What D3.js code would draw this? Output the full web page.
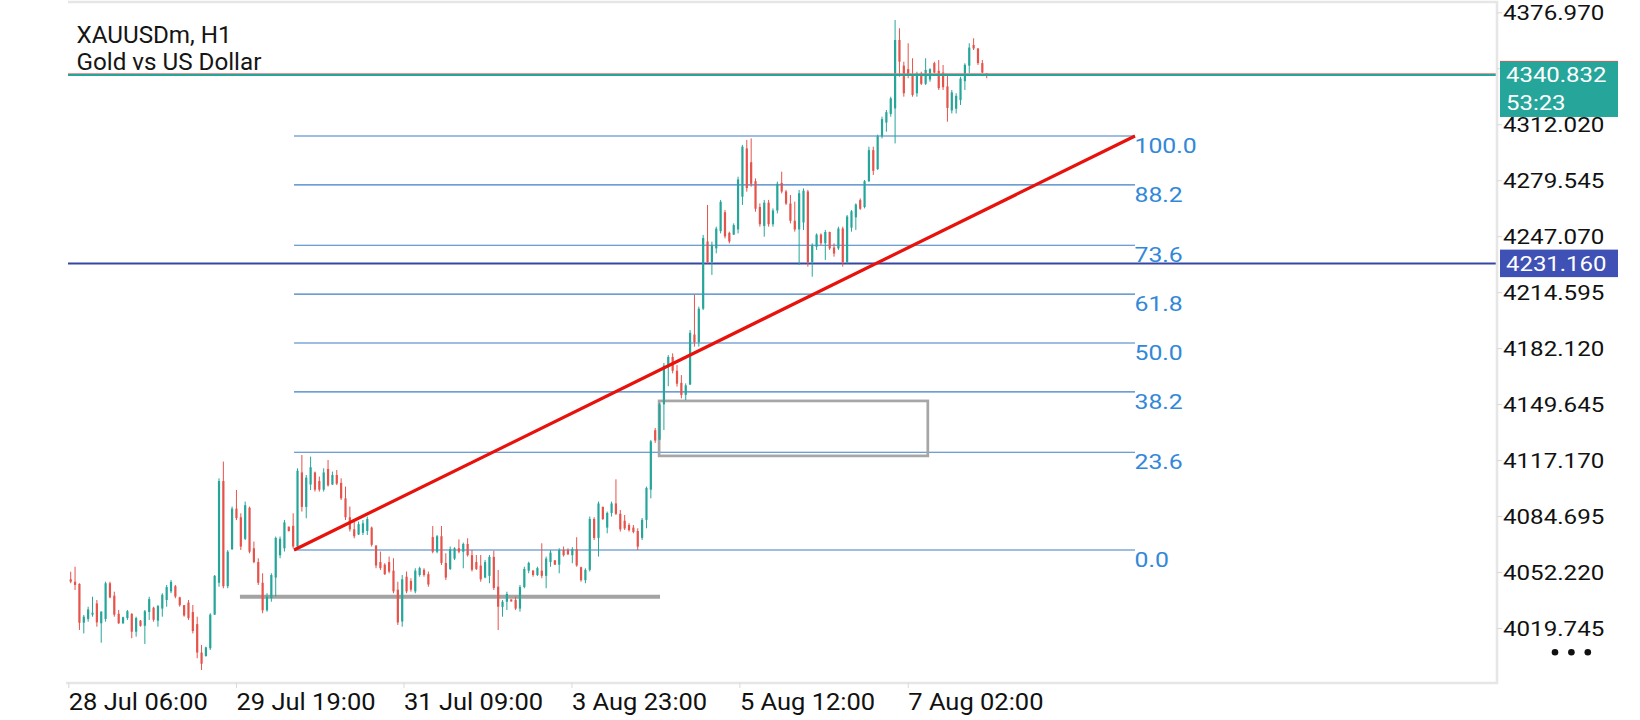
<!DOCTYPE html>
<html lang="en">
<head>
<meta charset="utf-8" />
<title>XAUUSDm, H1</title>
<style>
html, body {
	margin: 0;
	padding: 0;
	background: #fff;
}
svg {
	display: block;
	font-family: Roboto, "Noto Sans", sans-serif;
}
</style>
</head>
<body>
<svg width="1640" height="720"></svg>

<script src="https://cdn.jsdelivr.net/npm/d3@7"></script>
<script>

// H1 candles, [open, high, low, close]
var candles = [
	[4048.0,4052.4,4045.7,4046.6],[4046.6,4055.3,4041.8,4044.7],[4045.3,4045.7,4018.6,4022.8],[4022.8,4027.3,4016.6,4026.3],
	[4025.0,4032.1,4023.4,4030.5],[4027.5,4037.9,4026.3,4028.6],[4034.0,4036.0,4020.5,4023.0],[4022.5,4029.5,4011.2,4029.2],
	[4025.0,4046.6,4023.4,4045.7],[4045.7,4046.6,4037.0,4037.5],[4038.5,4040.8,4026.3,4027.5],[4028.0,4030.2,4022.1,4022.5],
	[4022.5,4026.3,4022.1,4026.0],[4025.5,4030.2,4024.4,4029.5],[4028.0,4028.3,4013.8,4017.6],[4017.6,4026.3,4014.7,4025.5],
	[4024.0,4024.4,4020.5,4021.0],[4021.0,4030.2,4010.5,4029.5],[4029.0,4037.9,4024.4,4036.5],[4031.5,4032.1,4023.4,4024.5],
	[4024.0,4033.1,4020.5,4032.5],[4031.0,4039.9,4026.3,4039.0],[4036.0,4044.7,4032.1,4043.5],[4041.0,4047.6,4039.9,4046.5],
	[4044.0,4044.7,4037.0,4038.0],[4037.5,4037.9,4032.1,4033.0],[4033.0,4033.1,4026.3,4027.0],[4034.5,4036.0,4024.4,4025.5],
	[4029.0,4033.1,4016.6,4018.0],[4022.0,4026.3,4002.2,4005.5],[4005.5,4009.9,3995.4,3999.0],[4003.5,4008.9,4003.1,4008.5],
	[4008.0,4028.3,4007.0,4027.5],[4027.5,4050.5,4027.3,4050.0],[4046.0,4106.6,4043.7,4105.0],[4105.0,4116.3,4042.8,4044.0],
	[4044.0,4065.0,4042.8,4064.0],[4065.5,4090.2,4065.0,4089.0],[4089.0,4099.8,4082.4,4083.5],[4084.0,4086.3,4065.0,4067.0],
	[4071.5,4093.1,4070.8,4091.0],[4089.5,4090.2,4063.1,4064.0],[4066.0,4069.9,4057.3,4058.0],[4058.0,4060.2,4044.7,4046.0],
	[4046.0,4051.5,4028.3,4030.0],[4030.0,4039.9,4029.2,4038.0],[4037.0,4051.5,4035.0,4050.5],[4049.0,4072.8,4037.9,4072.0],
	[4062.0,4072.8,4060.2,4071.5],[4066.0,4082.4,4064.1,4081.0],[4078.5,4078.6,4075.7,4076.0],[4079.0,4086.3,4066.0,4067.0],
	[4067.0,4112.4,4065.0,4111.0],[4110.0,4120.1,4087.3,4090.0],[4090.0,4108.5,4083.4,4107.0],[4103.0,4119.2,4099.8,4113.0],
	[4110.0,4110.5,4098.9,4100.0],[4105.0,4107.6,4098.9,4100.0],[4100.0,4112.4,4098.9,4110.0],[4112.0,4117.2,4101.8,4102.5],
	[4103.0,4110.5,4102.7,4108.5],[4108.5,4111.4,4102.7,4103.5],[4104.0,4106.6,4094.0,4095.0],[4095.0,4101.8,4082.4,4084.0],
	[4084.0,4090.2,4075.7,4077.0],[4077.0,4082.4,4071.8,4073.0],[4074.0,4081.5,4073.7,4080.0],[4075.0,4082.4,4073.7,4080.5],
	[4076.0,4084.4,4073.7,4083.0],[4078.0,4078.6,4067.0,4068.0],[4067.5,4067.9,4054.4,4056.0],[4058.0,4064.1,4053.4,4054.5],
	[4056.5,4057.3,4050.5,4051.0],[4058.0,4061.2,4051.5,4052.5],[4053.0,4060.2,4039.9,4041.0],[4042.0,4046.6,4021.5,4023.0],
	[4023.5,4050.5,4020.5,4048.0],[4049.5,4052.5,4039.9,4041.0],[4047.0,4048.6,4040.8,4042.0],[4041.0,4054.4,4039.9,4053.0],
	[4050.5,4055.3,4049.5,4054.5],[4053.5,4054.4,4049.5,4050.5],[4051.0,4052.5,4043.7,4045.0],[4072.5,4078.9,4063.1,4064.0],
	[4064.0,4073.7,4063.1,4073.0],[4073.0,4078.9,4056.3,4057.5],[4057.5,4063.1,4047.6,4049.0],[4054.0,4067.0,4053.4,4065.5],
	[4060.0,4066.6,4059.2,4066.0],[4066.0,4071.2,4063.1,4064.0],[4064.0,4069.3,4054.4,4068.5],[4068.5,4071.8,4061.2,4062.0],
	[4062.0,4065.0,4052.5,4053.5],[4058.0,4062.1,4053.4,4054.0],[4056.0,4062.1,4046.6,4048.0],[4049.0,4059.2,4048.6,4058.0],
	[4050.0,4062.1,4045.7,4061.0],[4061.0,4064.6,4041.8,4043.0],[4043.7,4053.4,4018.6,4032.1],[4032.0,4036.0,4026.3,4035.0],
	[4035.0,4040.8,4030.2,4039.5],[4036.3,4036.4,4035.0,4035.2],[4036.0,4037.9,4030.2,4031.0],[4031.0,4044.7,4029.2,4043.5],
	[4043.5,4055.3,4042.8,4054.0],[4053.0,4058.2,4051.5,4057.5],[4053.0,4053.4,4049.5,4050.5],[4050.5,4055.3,4049.9,4054.5],
	[4053.0,4068.9,4048.6,4050.0],[4050.0,4061.2,4042.8,4060.0],[4058.0,4065.0,4055.3,4063.5],[4059.0,4059.2,4056.3,4056.5],
	[4056.5,4066.0,4051.5,4065.0],[4065.0,4067.0,4061.2,4062.0],[4065.0,4066.0,4062.1,4062.5],[4062.0,4066.6,4057.3,4065.5],
	[4065.5,4072.4,4055.3,4056.0],[4055.0,4055.3,4046.6,4047.5],[4047.5,4054.4,4045.7,4053.5],[4053.5,4084.4,4052.5,4083.0],
	[4083.0,4084.0,4070.8,4072.0],[4072.0,4093.1,4061.2,4092.0],[4090.0,4090.2,4082.4,4083.0],[4078.0,4087.3,4074.7,4086.5],
	[4086.5,4093.1,4084.4,4092.0],[4092.0,4106.0,4085.3,4086.0],[4086.0,4088.2,4075.7,4077.0],[4082.0,4085.3,4076.6,4077.5],
	[4079.5,4080.5,4075.7,4076.5],[4078.0,4079.5,4074.7,4075.5],[4076.0,4077.6,4065.0,4067.0],[4072.0,4083.6,4070.8,4082.5],
	[4082.5,4101.8,4077.6,4101.0],[4100.0,4128.8,4095.0,4128.0],[4134.5,4135.8,4127.1,4128.5],[4129.0,4150.3,4128.8,4149.5],
	[4149.5,4173.5,4134.6,4172.0],[4172.0,4178.1,4160.0,4177.0],[4177.0,4179.1,4167.5,4169.0],[4169.0,4172.3,4159.8,4161.5],
	[4162.0,4166.5,4153.0,4155.0],[4155.0,4161.7,4152.0,4160.5],[4161.0,4192.6,4160.7,4191.0],[4190.0,4213.0,4183.0,4185.5],
	[4185.5,4206.2,4183.0,4205.0],[4205.0,4247.8,4204.2,4246.0],[4244.0,4265.2,4231.3,4232.0],[4232.0,4243.9,4224.6,4242.0],
	[4240.0,4252.6,4237.1,4251.5],[4250.0,4268.1,4248.7,4267.0],[4261.0,4262.3,4245.8,4247.0],[4249.0,4249.7,4242.9,4244.0],
	[4248.0,4254.5,4247.8,4253.5],[4251.0,4281.6,4248.7,4280.0],[4270.0,4300.0,4265.2,4299.0],[4298.0,4302.9,4272.9,4275.0],
	[4290.0,4303.8,4275.8,4277.5],[4279.0,4280.6,4261.3,4263.0],[4264.0,4266.1,4252.6,4254.0],[4253.0,4268.1,4246.8,4266.5],
	[4266.5,4268.1,4252.6,4254.0],[4254.0,4263.2,4252.6,4262.0],[4262.0,4278.7,4260.3,4277.5],[4278.0,4284.5,4271.9,4273.0],
	[4273.0,4273.9,4265.2,4266.0],[4266.0,4271.0,4254.5,4256.0],[4256.0,4267.1,4249.7,4251.0],[4251.0,4273.9,4230.4,4272.0],
	[4255.0,4274.8,4250.7,4273.5],[4273.0,4273.9,4229.4,4232.0],[4232.0,4242.9,4223.6,4242.0],[4241.0,4248.7,4239.1,4248.0],
	[4248.0,4248.7,4242.0,4243.0],[4243.0,4250.7,4233.3,4249.5],[4249.5,4249.7,4239.1,4240.0],[4240.5,4242.9,4235.2,4237.0],
	[4240.0,4252.6,4239.1,4251.5],[4251.5,4252.6,4229.4,4232.0],[4232.0,4259.4,4231.3,4258.5],[4252.0,4262.3,4249.7,4261.5],
	[4258.0,4266.1,4250.7,4265.5],[4268.0,4269.0,4262.3,4263.0],[4264.0,4279.7,4263.2,4279.0],[4279.0,4299.0,4278.5,4297.0],
	[4297.0,4299.0,4282.6,4285.0],[4286.0,4306.0,4285.5,4305.0],[4305.0,4316.4,4303.8,4315.0],[4313.0,4320.3,4307.7,4319.0],
	[4318.0,4328.0,4316.4,4327.0],[4321.2,4372.5,4300.9,4360.9],[4360.9,4367.7,4339.6,4348.3],[4346.0,4348.3,4328.0,4330.0],
	[4344.0,4359.0,4338.7,4340.0],[4341.0,4350.3,4328.0,4329.0],[4330.0,4342.5,4328.0,4341.5],[4341.5,4342.5,4334.8,4335.5],
	[4335.5,4350.3,4334.8,4343.5],[4338.0,4344.5,4336.7,4344.0],[4347.5,4348.3,4341.6,4342.0],[4343.0,4349.3,4331.9,4333.0],
	[4342.0,4346.4,4331.9,4333.5],[4334.0,4340.6,4313.5,4321.5],[4320.0,4331.9,4318.3,4330.5],[4321.0,4330.0,4318.3,4328.5],
	[4326.0,4339.6,4323.2,4338.5],[4337.0,4347.4,4331.9,4346.5],[4346.0,4359.0,4341.6,4356.5],[4358.0,4361.9,4355.1,4356.0],
	[4356.0,4356.1,4346.4,4347.5],[4347.5,4349.3,4341.6,4342.0],[4341.5,4341.6,4338.7,4340.8]
];

// price axis labels
var priceTicks = [4376.970, 4344.495, 4312.020, 4279.545, 4247.070, 4214.595,
	4182.120, 4149.645, 4117.170, 4084.695, 4052.220, 4019.745];

// time axis labels and where they sit (bar number)
var timeLabels = ["28 Jul 06:00", "29 Jul 19:00", "31 Jul 09:00", "3 Aug 23:00", "5 Aug 12:00", "7 Aug 02:00"];
var timeTickBars = [-0.55, 37.9, 76.3, 114.8, 153.3, 191.9];

// fibonacci retracement
var fibLevels = [0, 23.6, 38.2, 50.0, 61.8, 73.6, 88.2, 100.0];
var fibFrom = { bar: 51.2, price: 4065.0 };
var fibTo = { bar: 244.0, price: 4305.2 };

// other drawn objects
var grayLine = { bar0: 38.8, bar1: 135.1, price: 4037.9 };
var box = { bar0: 134.9, bar1: 196.5, top: 4151.5, bottom: 4119.6 };

var bidPrice = 4340.832;
var askPrice = 4341.2;
var timer = "53:23";
var levelPrice = 4231.160;

var title = ["XAUUSDm, H1", "Gold vs US Dollar"];

main();

function main() {

	var svg = d3.select('svg');

	var L = 68, R = 1497, T = 2, B = 683; // plot frame
	var upColor = "#26a69a", downColor = "#e5534b";
	var fibColor = "#3d7fc4", fibText = "#3288d8";

	var x = d3.scaleLinear().domain([0, candles.length - 1]).range([70.7, 986.7]);
	var y = d3.scaleLinear().domain([4019.745, 4376.970]).range([628, 12.3]);

	//文字は横に少し伸びている
	function place(px, py, sx) {
		return "translate(" + [px, py] + ") scale(" + sx + ",1)";
	}

	svg.append("defs").append("clipPath").attr("id", "plot")
		.append("rect").attr("x", L).attr("y", T).attr("width", R - L).attr("height", B - T);

	var plot = svg.append("g").attr("clip-path", "url(#plot)");

	//フレーム
	svg.append("path")
		.attr("d", "M" + L + "," + T + "H" + R + "V" + B + "H66")
		.attr("fill", "none").attr("stroke", "#e6e6e6").attr("stroke-width", 2.6);

	//タイトル
	svg.selectAll(".title").data(title).enter().append("text")
		.attr("class", "title")
		.attr("transform", function(d, i){ return place(76.5, 42.5 + i * 27.5, 1.03); })
		.attr("font-size", 23.5).attr("fill", "#151515")
		.text(function(d){ return d; });

	//フィボナッチ水平線
	var fibPrice = function(lv){ return fibFrom.price + (fibTo.price - fibFrom.price) * lv / 100; };
	var fib = plot.append("g");
	fib.selectAll("line").data(fibLevels).enter().append("line")
		.attr("x1", x(fibFrom.bar)).attr("x2", x(fibTo.bar))
		.attr("y1", function(d){ return y(fibPrice(d)); })
		.attr("y2", function(d){ return y(fibPrice(d)); })
		.attr("stroke", fibColor).attr("stroke-width", 1.1);
	fib.selectAll("text").data(fibLevels).enter().append("text")
		.attr("transform", function(d){ return place(x(fibTo.bar) - 0.5, y(fibPrice(d)) + 17, 1.18); })
		.attr("font-size", 21).attr("fill", fibText)
		.text(function(d){ return d.toFixed(1); });

	//グレーの水平線と四角形
	plot.append("line")
		.attr("x1", x(grayLine.bar0)).attr("x2", x(grayLine.bar1))
		.attr("y1", y(grayLine.price)).attr("y2", y(grayLine.price))
		.attr("stroke", "#a3a3a3").attr("stroke-width", 4);

	plot.append("rect")
		.attr("x", x(box.bar0)).attr("y", y(box.top))
		.attr("width", x(box.bar1) - x(box.bar0))
		.attr("height", y(box.bottom) - y(box.top))
		.attr("fill", "none").attr("stroke", "#a6a6a6").attr("stroke-width", 2.7);

	//価格ライン
	plot.append("line")
		.attr("x1", L).attr("x2", R)
		.attr("y1", y(levelPrice)).attr("y2", y(levelPrice))
		.attr("stroke", "#3646a3").attr("stroke-width", 2);

	//ローソク足
	var c = plot.selectAll(".candle").data(candles).enter().append("g").attr("class", "candle")
		.attr("fill", function(d){ return d[3] >= d[0] ? upColor : downColor; })
		.attr("stroke", function(d){ return d[3] >= d[0] ? upColor : downColor; });

	c.append("line")
		.attr("x1", function(d, i){ return x(i); })
		.attr("x2", function(d, i){ return x(i); })
		.attr("y1", function(d){ return y(d[1]); })
		.attr("y2", function(d){ return y(d[2]); })
		.attr("stroke-width", 1);

	c.append("rect")
		.attr("stroke", "none")
		.attr("x", function(d, i){ return x(i) - 1.1; })
		.attr("width", 2.2)
		.attr("y", function(d){ return y(Math.max(d[0], d[3])); })
		.attr("height", function(d){ return Math.max(1, Math.abs(y(d[0]) - y(d[3]))); });

	//トレンドライン
	plot.append("line")
		.attr("x1", x(fibFrom.bar)).attr("y1", y(fibFrom.price))
		.attr("x2", x(fibTo.bar)).attr("y2", y(fibTo.price))
		.attr("stroke", "#e8120c").attr("stroke-width", 3.2);

	//Bid/Askライン
	plot.append("line")
		.attr("x1", L).attr("x2", R)
		.attr("y1", y(askPrice)).attr("y2", y(askPrice))
		.attr("stroke", "#e57373").attr("stroke-width", 1.2);
	plot.append("line")
		.attr("x1", L).attr("x2", R)
		.attr("y1", y(bidPrice) + 0.4).attr("y2", y(bidPrice) + 0.4)
		.attr("stroke", upColor).attr("stroke-width", 2.2);

	//価格軸
	var yAxis = svg.append("g")
		.attr("transform", "translate(" + R + ",0)")
		.call(d3.axisRight(y).tickValues(priceTicks).tickSize(5).tickPadding(1)
			.tickFormat(d3.format(".3f")));
	yAxis.select(".domain").remove();
	yAxis.selectAll("line").attr("stroke", "#d8d8d8");
	yAxis.selectAll("text")
		.attr("font-family", "Roboto").attr("font-size", 21).attr("fill", "#111")
		.attr("x", null).attr("dy", null)
		.attr("transform", place(6, 7.5, 1.15));

	//時間軸
	var xAxis = svg.append("g")
		.attr("transform", "translate(0," + B + ")")
		.call(d3.axisBottom(x).tickValues(timeTickBars).tickSize(5)
			.tickFormat(function(d, i){ return timeLabels[i]; }));
	xAxis.select(".domain").remove();
	xAxis.selectAll("line").attr("stroke", "#d8d8d8");
	xAxis.selectAll("text")
		.attr("font-family", "Roboto").attr("font-size", 23.5).attr("fill", "#111")
		.attr("text-anchor", "start").attr("y", null).attr("dy", null)
		.attr("transform", place(0, 27, 1.085));

	//価格ラベル
	var bidY = y(bidPrice);
	svg.append("rect")
		.attr("x", R + 3).attr("y", bidY - 13.6).attr("width", 118).attr("height", 56)
		.attr("fill", upColor);
	svg.append("line")
		.attr("x1", R + 3).attr("x2", R + 121).attr("y1", bidY - 13.2).attr("y2", bidY - 13.2)
		.attr("stroke", "#b36a63").attr("stroke-width", 1);
	svg.append("text")
		.attr("transform", place(R + 9, bidY + 7.4, 1.14))
		.attr("font-size", 21).attr("fill", "#fff")
		.text(d3.format(".3f")(bidPrice));
	svg.append("text")
		.attr("transform", place(R + 9, bidY + 35.6, 1.14))
		.attr("font-size", 21).attr("fill", "#fff")
		.text(timer);

	var lvY = y(levelPrice);
	svg.append("rect")
		.attr("x", R + 3).attr("y", lvY - 14).attr("width", 118).attr("height", 27.5)
		.attr("fill", "#3f51b5");
	svg.append("text")
		.attr("transform", place(R + 9, lvY + 7.4, 1.14))
		.attr("font-size", 21).attr("fill", "#fff")
		.text(d3.format(".3f")(levelPrice));

	//メニューの点
	svg.selectAll(".dot").data([0, 1, 2]).enter().append("circle")
		.attr("class", "dot")
		.attr("cx", function(d){ return 1555 + d * 16.4; })
		.attr("cy", 652.3).attr("r", 3.3).attr("fill", "#111");
}

</script>
</body>
</html>
